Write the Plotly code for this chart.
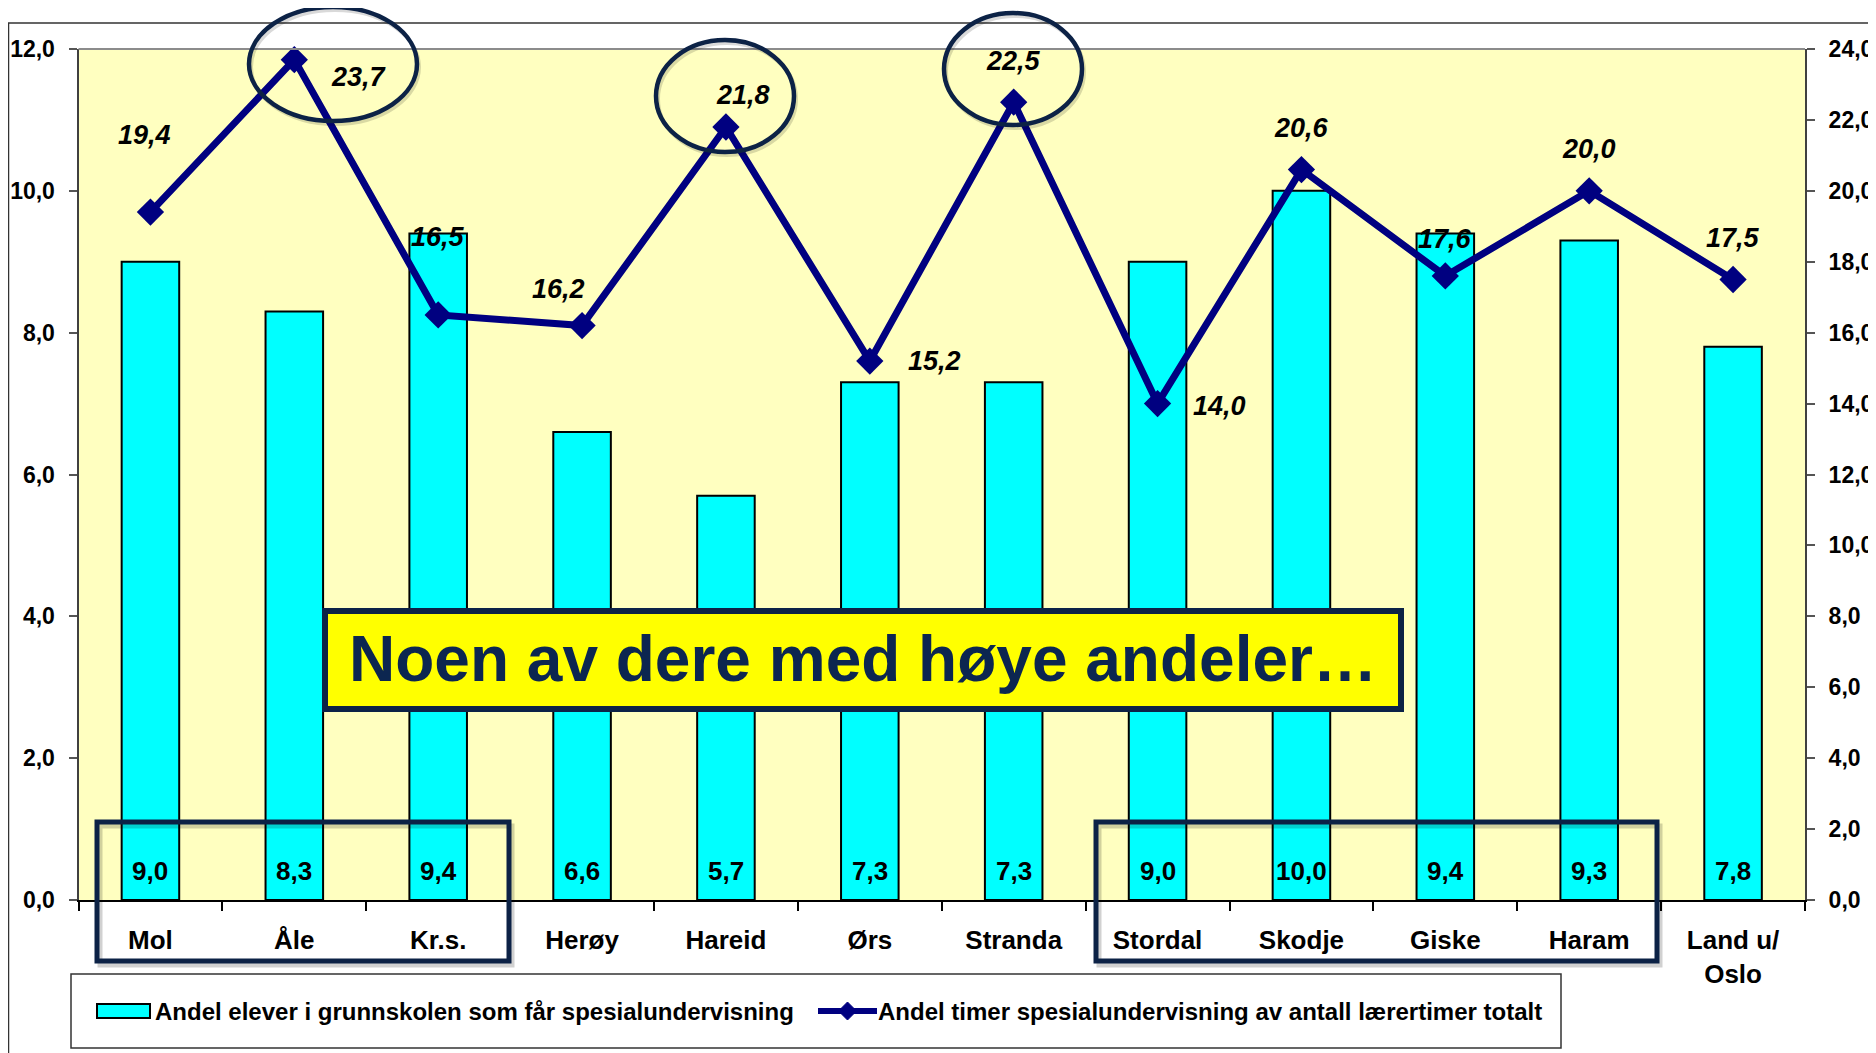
import plotly.graph_objects as go

# ---------------- data ----------------
categories = ["Mol", "Åle", "Kr.s.", "Herøy", "Hareid", "Ørs", "Stranda",
              "Stordal", "Skodje", "Giske", "Haram", "Land u/<br>Oslo"]
andel_elever = [9.0, 8.3, 9.4, 6.6, 5.7, 7.3, 7.3, 9.0, 10.0, 9.4, 9.3, 7.8]
andel_timer = [19.4, 23.7, 16.5, 16.2, 21.8, 15.2, 22.5, 14.0, 20.6, 17.6, 20.0, 17.5]
left_ticks = [0, 2, 4, 6, 8, 10, 12]
right_ticks = [0, 2, 4, 6, 8, 10, 12, 14, 16, 18, 20, 22, 24]

bar_name = "Andel elever i grunnskolen som får spesialundervisning"
line_name = "Andel timer spesialundervisning av antall lærertimer totalt"
callout_text = "Noen av dere med høye andeler…"

# label offsets (pixels) for line data labels: (dx, dy) where dy positive = up
line_label_offsets = [(-6, 77), (65, -17), (0, 78), (-24, 37), (17, 32), (65, 0),
                      (0, 41), (62, -2), (0, 42), (0, 37), (0, 42), (0, 41)]

# ---------------- geometry helpers (page pixel coords -> paper) ----------------
PAGE_OFF = 8                      # default body margin of the html page
W, H = 1876 - PAGE_OFF, 1053 - PAGE_OFF
L, R, T, B = 78.5, 1805, 49, 900


def fx(x):
    return (x - PAGE_OFF) / W


def fy(y):
    return 1 - (y - PAGE_OFF) / H


FONT = "Liberation Sans, Arial, sans-serif"
NAVY = "#0c2246"
LINE_COL = "#000080"


def fmt(v):
    return f"{v:.1f}".replace(".", ",")


fig = go.Figure()

fig.add_trace(go.Bar(
    x=categories, y=andel_elever, name=bar_name,
    marker=dict(color="#00FFFF", line=dict(color="#000000", width=2)),
    showlegend=False,
))

fig.add_trace(go.Scatter(
    x=categories, y=andel_timer, name=line_name, yaxis="y2",
    mode="lines+markers",
    line=dict(color=LINE_COL, width=7),
    marker=dict(symbol="diamond", size=21, color=LINE_COL),
    cliponaxis=False, showlegend=False,
))

annotations = []
for c, v in zip(categories, andel_elever):
    annotations.append(dict(x=c, y=0, xref="x", yref="y", text=fmt(v),
                            showarrow=False, yanchor="middle", yshift=29,
                            font=dict(family=FONT, size=26, color="#000", weight="bold")))
for c, v, (dx, dy) in zip(categories, andel_timer, line_label_offsets):
    annotations.append(dict(x=c, y=v, xref="x", yref="y2", text=f"<b><i>{fmt(v)}</i></b>",
                            showarrow=False, xshift=dx, yshift=dy,
                            font=dict(family=FONT, size=27, color="#000")))

annotations.append(dict(x=fx(863), y=fy(659), xref="paper", yref="paper",
                        text=f"<b>{callout_text}</b>", showarrow=False,
                        xanchor="center", yanchor="middle",
                        font=dict(family=FONT, size=64, color="#0c2650")))

annotations.append(dict(x=fx(153), y=fy(1011), xref="paper", yref="paper",
                        text=f"<b>{bar_name}</b>", showarrow=False,
                        xanchor="left", yanchor="middle",
                        font=dict(family=FONT, size=24, color="#000")))
annotations.append(dict(x=fx(876), y=fy(1011), xref="paper", yref="paper",
                        text=f"<b>{line_name}</b>", showarrow=False,
                        xanchor="left", yanchor="middle",
                        font=dict(family=FONT, size=24, color="#000")))

shapes = []
shapes.append(dict(type="rect", xref="paper", yref="paper",
                   x0=fx(8.5), x1=fx(1900), y0=fy(1080), y1=fy(23),
                   line=dict(color="#333333", width=1.5), layer="below"))
shapes.append(dict(type="line", xref="paper", yref="paper",
                   x0=fx(L), x1=fx(R), y0=fy(T), y1=fy(T),
                   line=dict(color="#8c8c8c", width=2)))
for cx, cy, rx, ry in [(333, 64, 84, 57), (725, 96, 69, 56), (1013, 69, 69, 56)]:
    shapes.append(dict(type="circle", xref="paper", yref="paper",
                       x0=fx(cx - rx + 2), x1=fx(cx + rx + 2), y0=fy(cy + ry + 3), y1=fy(cy - ry + 3),
                       line=dict(color="rgba(0,0,0,0.15)", width=4), layer="above"))
    shapes.append(dict(type="circle", xref="paper", yref="paper",
                       x0=fx(cx - rx), x1=fx(cx + rx), y0=fy(cy + ry), y1=fy(cy - ry),
                       line=dict(color=NAVY, width=4.5), layer="above"))
for x0, x1 in [(97, 509), (1096, 1657)]:
    shapes.append(dict(type="rect", xref="paper", yref="paper",
                       x0=fx(x0 + 3), x1=fx(x1 + 3), y0=fy(965), y1=fy(826),
                       line=dict(color="rgba(0,0,0,0.18)", width=5), layer="above"))
    shapes.append(dict(type="rect", xref="paper", yref="paper",
                       x0=fx(x0), x1=fx(x1), y0=fy(961), y1=fy(822),
                       line=dict(color=NAVY, width=5), layer="above"))
shapes.append(dict(type="rect", xref="paper", yref="paper",
                   x0=fx(325), x1=fx(1401), y0=fy(709), y1=fy(611),
                   fillcolor="#FFFF00", line=dict(color=NAVY, width=6), layer="above"))
shapes.append(dict(type="rect", xref="paper", yref="paper",
                   x0=fx(71), x1=fx(1561), y0=fy(1048), y1=fy(974),
                   fillcolor="white", line=dict(color="#333333", width=1.5), layer="above"))
shapes.append(dict(type="rect", xref="paper", yref="paper",
                   x0=fx(97), x1=fx(150), y0=fy(1018), y1=fy(1004),
                   fillcolor="#00FFFF", line=dict(color="#000", width=2), layer="above"))
shapes.append(dict(type="line", xref="paper", yref="paper",
                   x0=fx(818), x1=fx(877), y0=fy(1011), y1=fy(1011),
                   line=dict(color=LINE_COL, width=6), layer="above"))
shapes.append(dict(type="path", xref="paper", yref="paper",
                   path=(f"M {fx(847.5)} {fy(1002)} L {fx(856.5)} {fy(1011)} "
                         f"L {fx(847.5)} {fy(1020)} L {fx(838.5)} {fy(1011)} Z"),
                   fillcolor=LINE_COL, line=dict(color=LINE_COL, width=1), layer="above"))

tickfont = dict(family=FONT, size=23, color="#000", weight="bold")

fig.update_layout(
    width=W, height=H,
    margin=dict(l=0, r=0, t=0, b=0, autoexpand=False),
    paper_bgcolor="white",
    plot_bgcolor="#FFFFC0",
    separators=", ",
    bargap=0.6,
    showlegend=False,
    xaxis=dict(
        domain=[fx(L), fx(R)], type="category", automargin=False,
        range=[-0.5, len(categories) - 0.5], autorange=False,
        tickson="boundaries", ticks="outside", ticklen=9, tickwidth=1.5, tickcolor="#000",
        showline=True, linecolor="#000", linewidth=2,
        showgrid=False, zeroline=False,
        tickfont=dict(family=FONT, size=26, color="#000", weight="bold"),
        ticklabelstandoff=16,
    ),
    yaxis=dict(
        domain=[fy(B), fy(T)], range=[0, 12], tickvals=left_ticks, automargin=False,
        tickformat=".1f", ticks="outside", ticklen=8, tickwidth=1.5, tickcolor="#555",
        showline=True, linecolor="#404040", linewidth=2,
        showgrid=False, zeroline=False, tickfont=tickfont,
        ticklabelstandoff=9,
    ),
    yaxis2=dict(
        overlaying="y", side="right", anchor="x", range=[0, 24], tickvals=right_ticks,
        automargin=False,
        tickformat=".1f", ticks="outside", ticklen=8, tickwidth=1.5, tickcolor="#555",
        showline=True, linecolor="#404040", linewidth=2,
        showgrid=False, zeroline=False, tickfont=tickfont,
        ticklabelstandoff=9,
    ),
    annotations=annotations,
    shapes=shapes,
)

fig.write_html("out.html")
